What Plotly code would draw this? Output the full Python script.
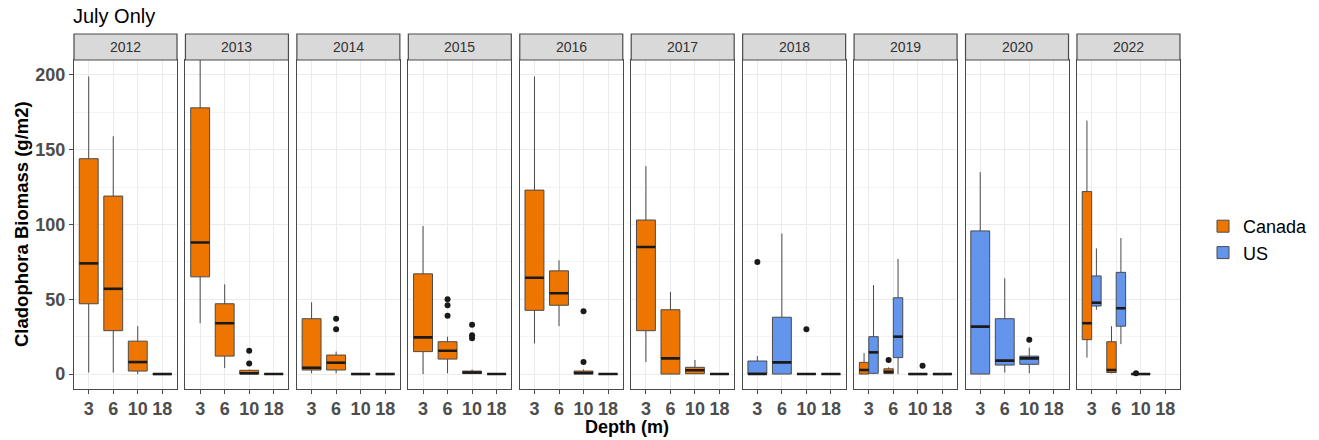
import plotly.graph_objects as go

# Facet years and depth categories
years = ["2012", "2013", "2014", "2015", "2016", "2017", "2018", "2019", "2020", "2022"]
depths = ["3", "6", "10", "18"]

# Box statistics per year (rows) and depth (columns); None = no samples
can_low = [[1, 1, 0, 0], [34, 4, 0, 0], [0.5, 0.5, 0, 0], [0, 0.5, 0, 0], [20.5, 32, 0, 0],
           [8, 0, 0, 0], [None] * 4, [0, 0, 0, 0], [None] * 4, [11, 0.5, 0, None]]
can_q1 = [[47, 29, 2, 0], [65, 12, 0, 0], [2.7, 2.7, 0, 0], [15, 10, 0.3, 0], [42.6, 46, 0, 0],
          [29, 0, 0.2, 0], [None] * 4, [0, 0.3, 0, 0], [None] * 4, [23, 1, 0, None]]
can_med = [[74, 57, 8, 0], [88, 34, 0.5, 0], [4.2, 7.6, 0, 0], [24.5, 15.6, 1, 0], [64.4, 54, 0.7, 0],
           [85, 10.5, 2.5, 0], [None] * 4, [2.7, 1.5, 0, 0], [None] * 4, [34, 2.7, 0, None]]
can_q3 = [[144, 119, 22, 0], [178, 47, 2.5, 0], [37, 12.7, 0, 0], [67, 21.6, 2, 0], [123, 69, 2, 0],
          [103, 43, 4.5, 0], [None] * 4, [7.8, 3.5, 0, 0], [None] * 4, [122, 21.6, 0, None]]
can_high = [[199, 159, 32, 0], [225, 60, 3, 0], [48, 15, 0, 0], [99, 25, 3, 0], [199, 76, 3, 0],
            [139, 55, 9.4, 0], [None] * 4, [14, 4.5, 0, 0], [None] * 4, [169.5, 32, 0, None]]

us_low = [[None] * 4] * 6 + [[0, 0, 0, 0], [0, 0, 0, 0], [0, 1, 0.5, None], [43, 20, 0, None]]
us_q1 = [[None] * 4] * 6 + [[0, 0, 0, 0], [0.5, 11, 0, 0], [0, 6, 6.5, None], [45.5, 32, 0, None]]
us_med = [[None] * 4] * 6 + [[0, 7.8, 0, 0], [14.5, 25, 0, 0], [31.7, 9, 10.5, None], [47.7, 44, 0, None]]
us_q3 = [[None] * 4] * 6 + [[8.7, 38, 0, 0], [25, 51, 0, 0], [95.7, 37, 12, None], [65.6, 68, 0, None]]
us_high = [[None] * 4] * 6 + [[12, 94, 0, 0], [59.5, 77, 0, 0], [135, 64, 17.6, None], [84, 91, 0, None]]

# Outlying observations: (year, depth, value)
can_outliers = [("2013", "10", 15.5), ("2013", "10", 7), ("2014", "6", 37), ("2014", "6", 30),
                ("2015", "6", 50), ("2015", "6", 46), ("2015", "6", 39), ("2015", "10", 33),
                ("2015", "10", 26), ("2015", "10", 24), ("2016", "10", 42), ("2016", "10", 8),
                ("2019", "6", 9.4), ("2022", "10", 0.5)]
us_outliers = [("2018", "3", 75), ("2018", "10", 30), ("2019", "10", 5.6), ("2020", "10", 23)]

CAN_COLOR = "#EE7600"
US_COLOR = "#6495ED"
EDGE = "#4A4A4A"
BOX_W = 0.77

W, H = 1319, 440
PANEL_L, PANEL_STEP, PANEL_W = 74, 111.44, 103
PLOT_TOP, PLOT_BOT = 60, 389
STRIP_TOP = 34


def px_x(v):
    return v / W


def px_y(v):
    return 1 - v / H


fig = go.Figure()

series = [
    ("Canada", CAN_COLOR, can_low, can_q1, can_med, can_q3, can_high, can_outliers, -1),
    ("US", US_COLOR, us_low, us_q1, us_med, us_q3, us_high, us_outliers, 1),
]

shown = set()
for i, yr in enumerate(years):
    ax = "" if i == 0 else str(i + 1)
    xa, ya = "x" + ax, "y" + ax
    med_x, med_y = [], []
    for name, color, lo, q1, med, q3, hi, outs, side in series:
        xs, a, b, c, d, e = [], [], [], [], [], []
        dodged = False
        centers = {}
        for j, dep in enumerate(depths):
            if med[i][j] is None:
                continue
            both = can_med[i][j] is not None and us_med[i][j] is not None
            w = BOX_W / 2 if both else BOX_W
            dodged = dodged or both
            cx = (j + 1) + (side * BOX_W / 4 if both else 0)
            centers[dep] = cx
            xs.append(cx)
            a.append(lo[i][j]); b.append(q1[i][j]); c.append(med[i][j])
            d.append(q3[i][j]); e.append(hi[i][j])
            med_x += [cx - w / 2, cx + w / 2, None]
            med_y += [med[i][j], med[i][j], None]
        if not xs:
            continue
        fig.add_trace(go.Box(
            x=xs, q1=b, median=c, q3=d, lowerfence=a, upperfence=e,
            width=BOX_W / 2 if dodged else BOX_W, whiskerwidth=0,
            fillcolor=color, line=dict(color=EDGE, width=1),
            boxpoints=False, name=name, legendgroup=name,
            showlegend=name not in shown, xaxis=xa, yaxis=ya, hoverinfo="skip",
        ))
        shown.add(name)
        ox = [centers[dep] for (y0, dep, v) in outs if y0 == yr]
        oy = [v for (y0, dep, v) in outs if y0 == yr]
        if ox:
            fig.add_trace(go.Scatter(
                x=ox, y=oy, mode="markers", marker=dict(color="#1A1A1A", size=6),
                showlegend=False, xaxis=xa, yaxis=ya, hoverinfo="skip",
            ))
    fig.add_trace(go.Scatter(
        x=med_x, y=med_y, mode="lines", line=dict(color="#1A1A1A", width=2.6),
        showlegend=False, xaxis=xa, yaxis=ya, hoverinfo="skip", connectgaps=False,
    ))

    x0 = PANEL_L + i * PANEL_STEP
    x1 = x0 + PANEL_W
    dom = [px_x(x0), px_x(x1)]
    tickfont = dict(family="Liberation Sans", size=18, color="#4D4D4D", weight="bold")
    fig.layout["xaxis" + ax] = dict(
        domain=dom, anchor=ya, range=[0.4, 4.6], tickvals=[1, 2, 3, 4], ticktext=depths,
        showgrid=True, gridcolor="#EBEBEB", gridwidth=1, zeroline=False,
        showline=True, linecolor=EDGE, linewidth=1.2, mirror=True,
        ticks="outside", ticklen=4, tickcolor=EDGE, tickfont=tickfont, fixedrange=True,
        ticklabelstandoff=-1,
    )
    fig.layout["yaxis" + ax] = dict(
        domain=[px_y(PLOT_BOT), px_y(PLOT_TOP)], anchor=xa, range=[-10, 210],
        tickvals=[0, 50, 100, 150, 200], showgrid=True, gridcolor="#EBEBEB", gridwidth=1,
        minor=dict(tickvals=[25, 75, 125, 175], showgrid=True, gridcolor="#F3F3F3", gridwidth=0.6),
        zeroline=False, showline=True, linecolor=EDGE, linewidth=1.2, mirror=True,
        ticks="outside" if i == 0 else "", ticklen=4, tickcolor=EDGE,
        showticklabels=(i == 0), tickfont=tickfont, fixedrange=True,
    )
    # facet strip
    fig.add_shape(type="rect", xref="paper", yref="paper",
                  x0=px_x(x0), x1=px_x(x1), y0=px_y(PLOT_TOP), y1=px_y(STRIP_TOP),
                  fillcolor="#D9D9D9", line=dict(color=EDGE, width=1.2), layer="above")
    fig.add_annotation(text=yr, xref="paper", yref="paper",
                       x=px_x((x0 + x1) / 2), y=px_y((STRIP_TOP + PLOT_TOP) / 2),
                       xanchor="center", yanchor="middle", showarrow=False,
                       font=dict(family="Liberation Sans", size=14, color="#333333"))

fig.add_annotation(text="July Only", xref="paper", yref="paper", x=px_x(71), y=px_y(16),
                   xanchor="left", yanchor="middle", showarrow=False,
                   font=dict(family="Liberation Sans", size=20, color="#000000"))
fig.add_annotation(text="Cladophora Biomass (g/m2)", xref="paper", yref="paper",
                   x=px_x(22), y=px_y(224), xanchor="center", yanchor="middle",
                   textangle=-90, showarrow=False,
                   font=dict(family="Liberation Sans", size=18.5, color="#000000", weight="bold"))
fig.add_annotation(text="Depth (m)", xref="paper", yref="paper", x=px_x(627), y=px_y(427),
                   xanchor="center", yanchor="middle", showarrow=False,
                   font=dict(family="Liberation Sans", size=18, color="#000000", weight="bold"))

fig.update_layout(
    width=W, height=H, margin=dict(l=0, r=0, t=0, b=0),
    paper_bgcolor="white", plot_bgcolor="white", boxmode="overlay",
    legend=dict(x=px_x(1203), y=px_y(208), xanchor="left", yanchor="top",
                font=dict(family="Liberation Sans", size=18, color="#000000"),
                bgcolor="rgba(0,0,0,0)", itemwidth=30, tracegroupgap=0),
)

fig.write_html("out.html")
